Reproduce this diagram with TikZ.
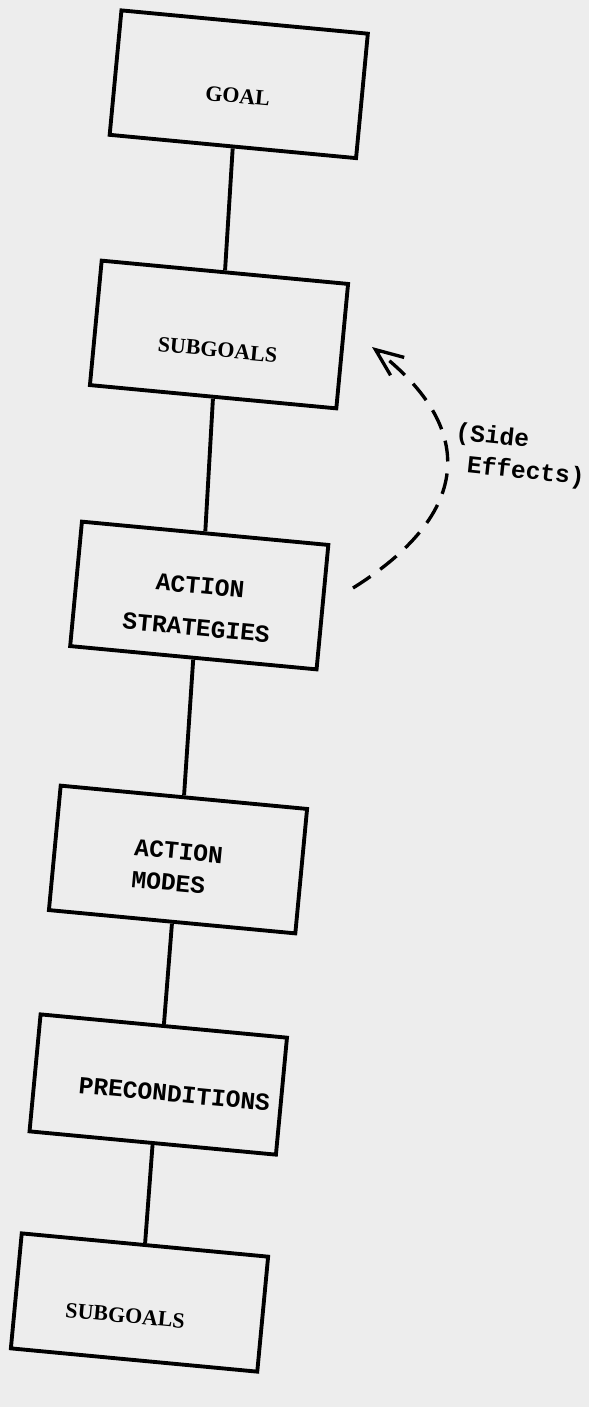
\documentclass[tikz,border=0pt]{standalone}
\usepackage{fontspec}
\setmainfont{Liberation Serif}
\newfontfamily\typefont{Liberation Mono}
\usepackage{tikz}
\usetikzlibrary{arrows.meta}

\tikzset{
    stage/.style={draw, line width=2.2pt, rotate=-5.4, minimum width=4.95cm, minimum height=2.5cm, inner sep=0pt},
    serifcap/.style={font=\bfseries\fontsize{12.5}{14.5}\selectfont},
    typecap/.style={font=\typefont\bfseries\fontsize{14}{16.8}\selectfont},
    sink/.style={text height=#1, text depth=0pt},
    link/.style={line width=2.2pt},
    sideeffect/.style={line width=1.9pt, dash pattern=on 0.42cm off 0.24cm, -{Straight Barb[length=5.5mm, width=4.5mm]}},
}

\begin{document}
\begin{tikzpicture}
    \fill[black!7] (0,0) rectangle (11.78,-28.14);
    \useasboundingbox (0,0) rectangle (11.78,-28.14);
    % chain of stages, top to bottom
    \node[stage, serifcap, sink=0.76cm] (goal) at (4.775,-1.685) {GOAL};
    \node[stage, serifcap, sink=0.9cm] (subgoals) at (4.38,-6.69) {SUBGOALS};
    \node[stage, typecap, align=center] (strategies) at (3.985,-11.91) {\rule{0pt}{0.78cm}ACTION\\[7pt]STRATEGIES};
    \node[stage, typecap, align=left] (modes) at (3.56,-17.19) {\rule{0pt}{0.64cm}ACTION\\[1.5pt]MODES};
    \node[stage, typecap, sink=0.64cm, minimum height=2.35cm] (preconds) at (3.165,-21.69) {\hspace*{0.68cm}PRECONDITIONS};
    \node[stage, serifcap, sink=0.86cm, minimum height=2.31cm] (subgoalsb) at (2.79,-26.05) {\hspace*{-0.52cm}SUBGOALS};
    \draw[link] (goal.south) -- (subgoals.north);
    \draw[link] (subgoals.south) -- (strategies.north);
    \draw[link] (strategies.south) -- (modes.north);
    \draw[link] (modes.south) -- (preconds.north);
    \draw[link] (preconds.south) -- (subgoalsb.north);
    % side effects, from strategies back to subgoals
    \coordinate (fxtail) at (7.06,-11.76);
    \coordinate (fxtip) at (7.44,-6.94);
    \draw[sideeffect] (fxtail) .. controls (9.63,-10.15) and (9.38,-8.42) .. (fxtip);
    \node[typecap, font=\typefont\bfseries\fontsize{14}{18}\selectfont, align=left, rotate=-6] (sidenote) at (10.4,-9.12) {(Side\\\phantom{(}Effects)};
\end{tikzpicture}
\end{document}
